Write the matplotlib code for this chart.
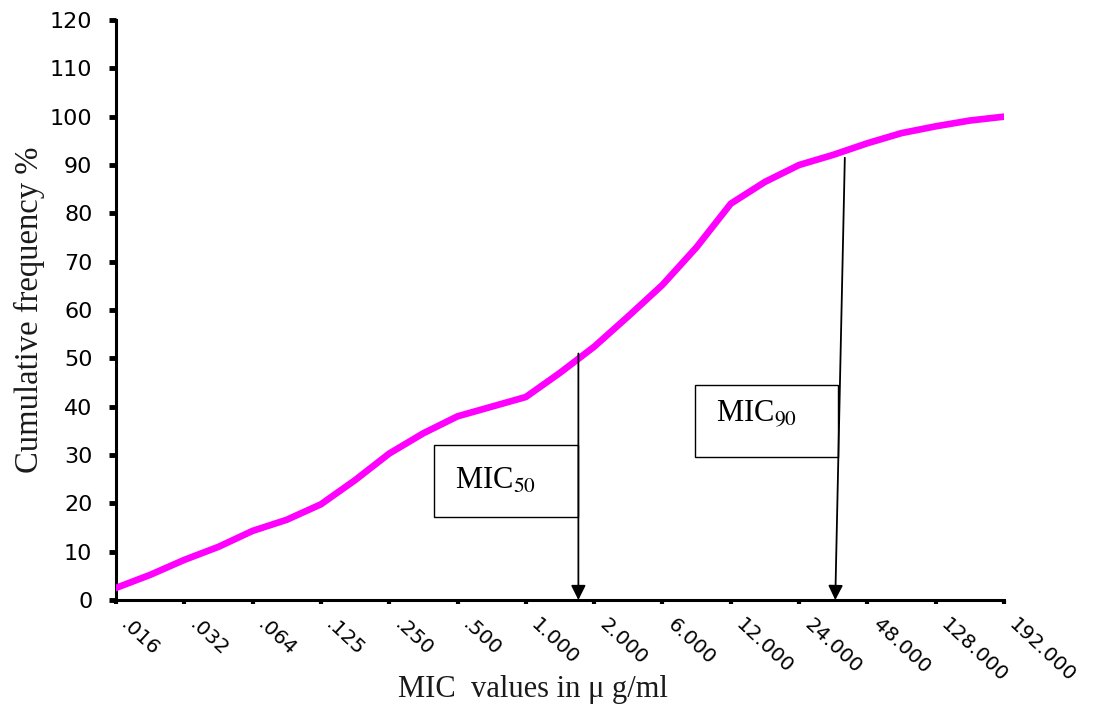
import matplotlib
matplotlib.use("Agg")
import matplotlib.pyplot as plt
import matplotlib.transforms as mtransforms
from matplotlib.patches import Rectangle
import numpy as np

# MIC categories (x axis)
mic_labels = ['.016', '.032', '.064', '.125', '.250', '.500', '1.000',
              '2.000', '6.000', '12.000', '24.000', '48.000', '128.000', '192.000']
# cumulative frequency at each category
cum_freq = [2.5, 8.3, 14.3, 19.8, 30.3, 38.0, 42.0,
            52.4, 65.2, 82.0, 90.0, 94.5, 98.0, 100.0]
# readings half way between categories (the curve is drawn smooth)
cum_freq_mid = [5.2, 11.0, 16.6, 24.8, 34.5, 40.0, 47.0,
                58.7, 73.0, 86.5, 92.1, 96.6, 99.2]
y_ticks = list(range(0, 121, 10))

x = np.arange(len(mic_labels))
x_mid = x[:-1] + 0.5
# merge both sets of readings in x order
curve_x = np.empty(len(x) + len(x_mid))
curve_y = np.empty(len(x) + len(x_mid))
curve_x[0::2], curve_x[1::2] = x, x_mid
curve_y[0::2], curve_y[1::2] = cum_freq, cum_freq_mid

plt.rcParams['mathtext.fontset'] = 'stix'
serif = 'Liberation Serif'

fig = plt.figure(figsize=(11.09, 7.12), dpi=100)
ax = fig.add_axes([0.1046, 0.1573, 0.8007, 0.8146])

# the curve
ax.plot(curve_x, curve_y, color='#FF00FF', lw=4.8, solid_joinstyle='round', zorder=3)

ax.set_xlim(0, len(mic_labels) - 1)
ax.set_ylim(0, 120)

# axes styling (left + bottom only)
for s in ['top', 'right']:
    ax.spines[s].set_visible(False)
for s in ['left', 'bottom']:
    ax.spines[s].set_linewidth(2.2)
    ax.spines[s].set_color('black')

ax.set_yticks(y_ticks)
ax.set_yticklabels([str(v) for v in y_ticks], fontsize=16, family='DejaVu Sans')
ax.tick_params(axis='y', length=5, width=3.5, pad=12, direction='out')

ax.set_xticks(x)
ax.set_xticklabels(mic_labels, fontsize=14.5, family='DejaVu Sans',
                   rotation=-43, ha='left', va='center', rotation_mode='anchor')
ax.tick_params(axis='x', length=3, width=3, pad=13, direction='out')
# nudge the slanted labels a bit to the right of their ticks
shift = mtransforms.ScaledTranslation(8 / 100, 0, fig.dpi_scale_trans)
for lab in ax.get_xticklabels():
    lab.set_transform(lab.get_transform() + shift)

# axis titles
ax.set_ylabel('Cumulative frequency %', family=serif, fontsize=23.5, color='#1a1a1a')
ax.yaxis.set_label_coords(-0.08, 0.5)
ax.set_xlabel('MIC  values in \u03bc g/ml', family=serif, fontsize=22, color='#1a1a1a')
ax.xaxis.set_label_coords(0.47, -0.13)

# MIC50 marker: where the curve crosses 50 %
mic50_x = np.interp(50, cum_freq, x)
ax.annotate('', xy=(mic50_x, 0), xytext=(mic50_x, 51),
            arrowprops=dict(arrowstyle='-|>', color='black', lw=1.3,
                            mutation_scale=22, shrinkA=0, shrinkB=0), zorder=4)
ax.add_patch(Rectangle((4.66, 17.2), mic50_x - 4.66, 14.9, fill=False,
                       edgecolor='black', lw=1.0, zorder=4))
ax.text(4.96, 24.6, r'MIC$_{50}$', family=serif, fontsize=22, va='center', ha='left')

# MIC90 marker
ax.annotate('', xy=(10.53, 0), xytext=(10.67, 91.5),
            arrowprops=dict(arrowstyle='-|>', color='black', lw=1.3,
                            mutation_scale=22, shrinkA=0, shrinkB=0), zorder=4)
ax.add_patch(Rectangle((8.48, 29.6), 10.57 - 8.48, 14.9, fill=False,
                       edgecolor='black', lw=1.0, zorder=4))
ax.text(8.78, 38.6, r'MIC$_{90}$', family=serif, fontsize=22, va='center', ha='left')

fig.savefig('out.png', dpi=100)
